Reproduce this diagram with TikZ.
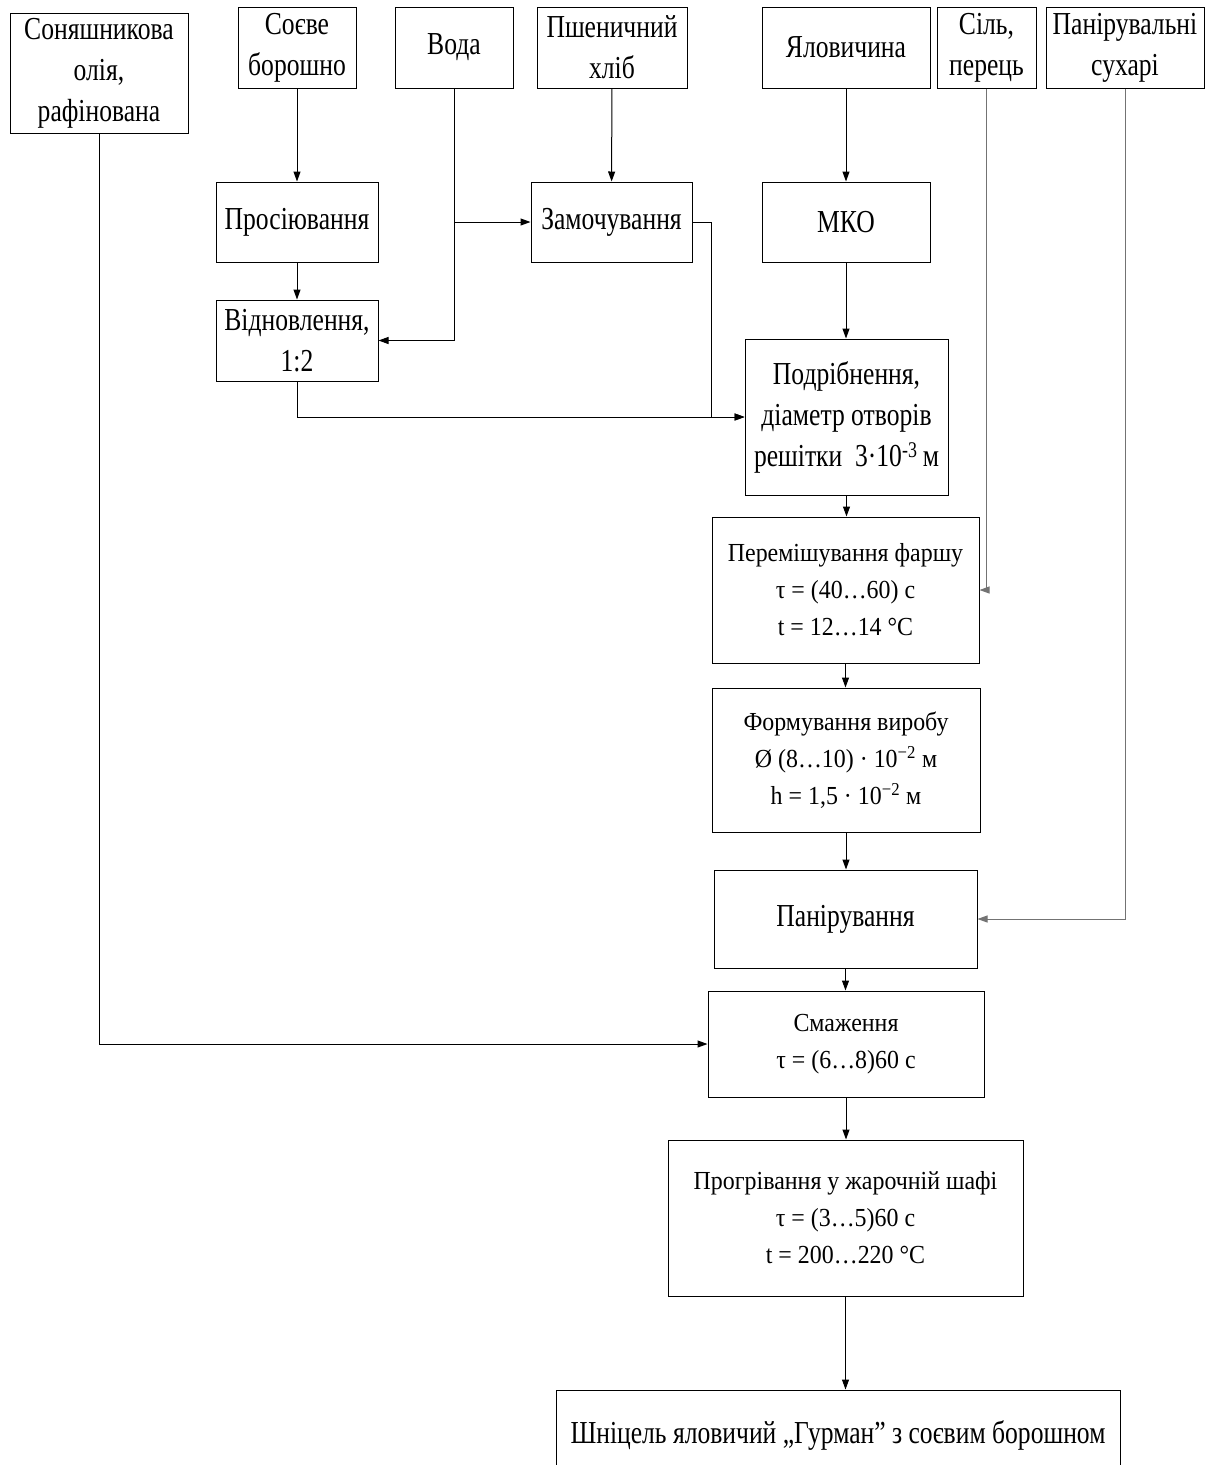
\documentclass[tikz,border=0pt]{standalone}
\usepackage{fontspec}
\setmainfont[FakeStretch=0.8]{Liberation Serif}
\newfontfamily\procfont[FakeStretch=0.92]{Liberation Serif}
\usetikzlibrary{arrows.meta}

\tikzset{
    box/.style={draw, line width=1pt, align=center, inner sep=0pt,
        font=\fontsize{32}{41}\selectfont},
    procbox/.style={box, font=\procfont\fontsize{26}{37}\selectfont},
    flow/.style={line width=1pt, -{Triangle[length=10pt,width=7pt]}},
    feed/.style={flow, draw=black!55}
}

\begin{document}
\begin{tikzpicture}[x=1pt, y=-1pt]
    \useasboundingbox (0,0) rectangle (1206,1465);

    % Raw materials
    \node[box, minimum width=178pt, minimum height=120pt] (oil) at (99,73) {Соняшникова\\олія,\\рафінована};
    \node[box, minimum width=118pt, minimum height=81pt] (soy) at (297,47.5) {Соєве\\борошно};
    \node[box, minimum width=118pt, minimum height=81pt] (water) at (454,47.5) {Вода};
    \node[box, minimum width=150pt, minimum height=81pt] (bread) at (612,47.5) {Пшеничний\\хліб};
    \node[box, minimum width=168pt, minimum height=81pt] (beef) at (846,47.5) {Яловичина};
    \node[box, minimum width=99pt, minimum height=81pt] (salt) at (986.5,47.5) {Сіль,\\перець};
    \node[box, minimum width=158pt, minimum height=81pt] (crumbs) at (1125,47.5) {Панірувальні\\сухарі};

    % Preparation
    \node[box, minimum width=162pt, minimum height=80pt] (sift) at (297,222) {Просіювання};
    \node[box, minimum width=161pt, minimum height=80pt] (soak) at (611.5,222) {Замочування};
    \node[box, minimum width=168pt, minimum height=80pt] (mko) at (846,222) {МКО};
    \node[box, minimum width=162pt, minimum height=81pt] (restore) at (297,340.5) {Відновлення,\\1:2};

    % Main line
    \node[box, minimum width=203pt, minimum height=156pt] (grind) at (846.5,417) {Подрібнення,\\діаметр отворів\\решітки\ \ 3·10\textsuperscript{-3}\,м};
    \node[procbox, minimum width=267pt, minimum height=146pt] (mix) at (845.5,590) {Перемішування фаршу\\τ = (40…60) с\\t = 12…14 °C};
    \node[procbox, minimum width=268pt, minimum height=144pt] (form) at (846,760) {Формування виробу\\Ø (8…10) · 10\textsuperscript{−2} м\\h = 1,5 · 10\textsuperscript{−2} м};
    \node[box, minimum width=263pt, minimum height=98pt] (panir) at (845.5,919) {Панірування};
    \node[procbox, minimum width=276pt, minimum height=106pt] (fry) at (846,1044) {Смаження\\τ = (6…8)60 с};
    \node[procbox, minimum width=355pt, minimum height=156pt] (heat) at (845.5,1218) {Прогрівання у жарочній шафі\\τ = (3…5)60 с\\t = 200…220 °C};
    \node[box, minimum width=564pt, minimum height=90pt] (final) at (838,1435) {Шніцель яловичий „Гурман” з соєвим борошном};

    % Connections
    \draw[flow] (soy) -- (sift);
    \draw[flow] (sift) -- (restore);
    \draw[flow] (water.south) |- (restore.east);
    \draw[flow] (water.south |- soak.west) -- (soak.west);
    \draw[flow] (bread) -- (soak);
    \draw[flow] (soak.east) -- ++(19,0) |- (grind.west);
    \draw[flow] (restore.south) |- (grind.west);
    \draw[flow] (beef) -- (mko);
    \draw[flow] (mko) -- (mko |- grind.north);
    \draw[flow] (grind.south) -- (grind.south |- mix.north);
    \draw[feed] (salt.south) |- (mix.east);
    \draw[flow] (mix.south) -- (mix.south |- form.north);
    \draw[flow] (form.south) -- (form.south |- panir.north);
    \draw[feed] (crumbs.south) |- (panir.east);
    \draw[flow] (panir.south) -- (panir.south |- fry.north);
    \draw[flow] (oil.south) |- (fry.west);
    \draw[flow] (fry.south) -- (fry.south |- heat.north);
    \draw[flow] (heat.south) -- (heat.south |- final.north);
\end{tikzpicture}
\end{document}
